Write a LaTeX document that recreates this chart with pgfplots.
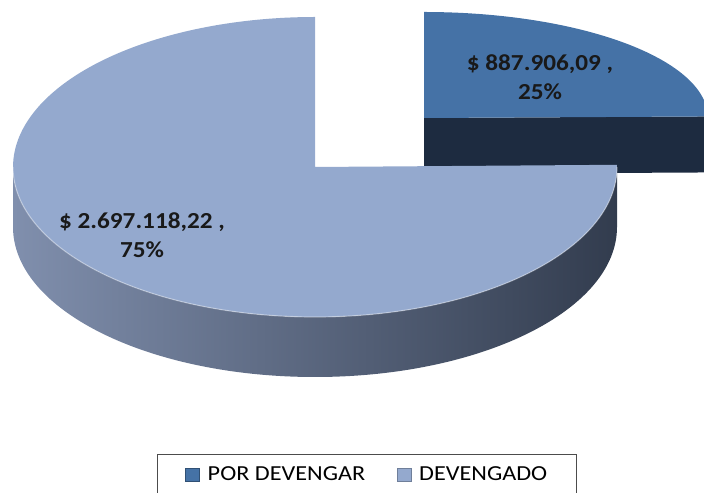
\documentclass[border=0pt]{standalone}
\usepackage{fontspec}
\setmainfont{Carlito}
\newfontfamily\lblfont[FakeStretch=1.1]{Carlito}
\newfontfamily\legfont[FakeStretch=1.13]{Carlito}
\usepackage{pgfplots}
\pgfplotsset{compat=1.18}
\usepackage{pgfplotstable}

\definecolor{topA}{RGB}{69,114,166}
\definecolor{sideA}{RGB}{29,43,64}
\definecolor{topB}{RGB}{148,169,206}
\definecolor{sideBl}{RGB}{128,143,173}
\definecolor{sideBm}{RGB}{88,100,125}
\definecolor{sideBr}{RGB}{50,60,78}

\pgfplotstableread{
label value
PORDEVENGAR 887906.09
DEVENGADO 2697118.22
}\piedata
\pgfplotstablegetelem{0}{value}\of\piedata \let\vA\pgfplotsretval
\pgfplotstablegetelem{1}{value}\of\piedata \let\vB\pgfplotsretval
\edef\angA{\fpeval{360*\vA/(\vA+\vB)}}
\edef\startB{\fpeval{90-\angA}}

\pgfplotsset{
  sqlegend/.style 2 args={legend image code/.code={%
    \fill[#1,draw=#2,line width=1bp] (0bp,-6.5bp) rectangle (14bp,6.5bp);}}
}

\begin{document}
\begin{tikzpicture}
\begin{axis}[
  at={(0,0)}, anchor=south west,
  scale only axis, width=704bp, height=493bp,
  xmin=0, xmax=704, ymin=0, ymax=493,
  hide axis, clip=true,
  legend columns=2,
  legend style={at={(axis cs:367,39)}, anchor=north,
    draw=black!70, line width=1.2bp, fill=white,
    font=\legfont\fontsize{21.5}{21.5}\selectfont,
    inner xsep=28bp, inner ysep=11bp,
    nodes={inner sep=1.5bp},
    /tikz/every odd column/.append style={column sep=6bp},
    /tikz/every even column/.append style={column sep=30bp}},
]
% small slice (POR DEVENGAR), exploded
\coordinate (c2) at (axis cs:424,375);
\fill[sideA] (c2) -- ++(\startB:284bp and 106bp) -- ++(0,-56bp)
   -- ++(\startB+180:284bp and 106bp) -- cycle;
\fill[topA] (c2) -- ++(\startB:284bp and 106bp)
   arc[start angle=\startB, end angle=90, x radius=284bp, y radius=106bp] -- cycle;
% big slice (DEVENGADO)
\coordinate (c1) at (axis cs:315,326);
\shade[left color=sideBl, middle color=sideBm, right color=sideBr]
   (c1) ++(0:302bp and 150bp)
   arc[start angle=0, end angle=-180, x radius=302bp, y radius=150bp]
   -- ++(0,-60bp)
   arc[start angle=-180, end angle=0, x radius=302bp, y radius=150bp] -- cycle;
\fill[topB] (c1) -- ++(\startB:302bp and 150bp)
   arc[start angle=\startB, end angle=-270, x radius=302bp, y radius=150bp] -- cycle;
\draw[white, opacity=0.35, line width=1.2bp]
   (c1) ++(-180:302bp and 150bp)
   arc[start angle=-180, end angle=0, x radius=302bp, y radius=150bp];
% data labels
\node[font=\lblfont\bfseries\fontsize{23}{28.5}\selectfont, align=center, text=black!90]
   at (axis cs:540,416) {\$ 887.906,09 ,\\25\%};
\node[font=\lblfont\bfseries\fontsize{23}{29}\selectfont, align=center, text=black!90]
   at (axis cs:142,258) {\$ 2.697.118,22 ,\\75\%};
% legend
\addlegendimage{sqlegend={topA}{topA!70!black}}
\addlegendentry{POR DEVENGAR}
\addlegendimage{sqlegend={topB}{topB!75!black}}
\addlegendentry{DEVENGADO}
\end{axis}
\pgfresetboundingbox
\useasboundingbox (0,0) rectangle (704bp,493bp);
\end{tikzpicture}
\end{document}
